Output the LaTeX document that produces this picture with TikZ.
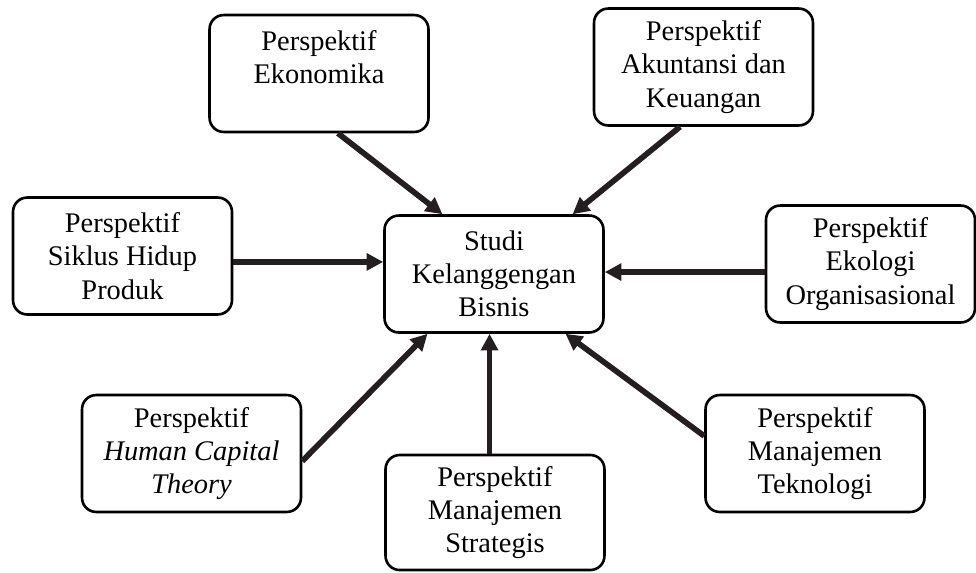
\documentclass[tikz,border=0pt]{standalone}
\usepackage{fontspec}
\setmainfont{Liberation Serif}
\usetikzlibrary{arrows.meta, positioning, calc}
\definecolor{DK}{RGB}{35,31,32}

\begin{document}
\begin{tikzpicture}[
  x=0.4225pt, y=-0.4225pt,
  pbox/.style={draw=black, line width=1.1pt, rounded corners=6pt,
               fill=white, inner sep=0pt, align=center,
               minimum width=92.5pt, minimum height=49.4pt,
               font=\fontsize{12}{14}\selectfont},
  arr/.style={-{Triangle[length=7pt, width=7pt]}, line width=2.4pt, draw=DK}
]
\useasboundingbox (0,0) rectangle (976,572);

% centre
\node[pbox] (studi) at (494,274) {Studi\\Kelanggengan\\Bisnis};

% perspectives
\node[pbox] (eko)  at (319,73.5)  {Perspektif\\Ekonomika\\~};
\node[pbox] (aku)  at (703.5,67)  {Perspektif\\Akuntansi dan\\Keuangan};
\node[pbox] (sik)  at (122.5,256) {Perspektif\\Siklus Hidup\\Produk};
\node[pbox, minimum width=88.3pt] (ekol) at (870.5,264)
  {Perspektif\\Ekologi\\Organisasional};
\node[pbox] (hum)  at (191.5,453.5) {Perspektif\\\textit{Human Capital}\\\textit{Theory}};
\node[pbox, minimum height=48.6pt] (stra) at (495,512.5)
  {Perspektif\\Manajemen\\Strategis};
\node[pbox] (tek)  at (815,453.5) {Perspektif\\Manajemen\\Teknologi};

% arrows into the centre
\coordinate (sikout)  at ([yshift=-2.5pt]sik.east);
\coordinate (ekolout) at ([yshift=-3.4pt]ekol.west);
\coordinate (straout) at ([xshift=-2.3pt]stra.north);

\draw[arr] ([xshift=8pt]eko.south) -- ([xshift=-21.8pt]studi.north);
\draw[arr] ([xshift=-9.9pt]aku.south) -- ([xshift=33.2pt]studi.north);
\draw[arr] (sikout) -- (sikout -| studi.west);
\draw[arr] (ekolout) -- (ekolout -| studi.east);
\draw[arr] ([yshift=-3.2pt]hum.east) -- ([xshift=-28.1pt]studi.south);
\draw[arr] (straout) -- (straout |- studi.south);
\draw[arr] ([yshift=7.4pt]tek.west) -- ([xshift=30.2pt]studi.south);
\end{tikzpicture}
\end{document}
